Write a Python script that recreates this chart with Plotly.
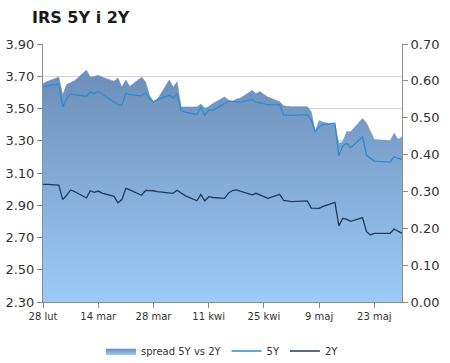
import plotly.graph_objects as go

dates = [
    "2013-02-28", "2013-03-01",
    "2013-03-04", "2013-03-05", "2013-03-06", "2013-03-07", "2013-03-08",
    "2013-03-11", "2013-03-12", "2013-03-13", "2013-03-14", "2013-03-15",
    "2013-03-18", "2013-03-19", "2013-03-20", "2013-03-21", "2013-03-22",
    "2013-03-25", "2013-03-26", "2013-03-27", "2013-03-28", "2013-03-29",
    "2013-04-01", "2013-04-02", "2013-04-03", "2013-04-04", "2013-04-05",
    "2013-04-08", "2013-04-09", "2013-04-10", "2013-04-11", "2013-04-12",
    "2013-04-15", "2013-04-16", "2013-04-17", "2013-04-18", "2013-04-19",
    "2013-04-22", "2013-04-23", "2013-04-24", "2013-04-25", "2013-04-26",
    "2013-04-29", "2013-04-30", "2013-05-02",
    "2013-05-06", "2013-05-07", "2013-05-08", "2013-05-09", "2013-05-10",
    "2013-05-13", "2013-05-14", "2013-05-15", "2013-05-16", "2013-05-17",
    "2013-05-20", "2013-05-21", "2013-05-22", "2013-05-23", "2013-05-24",
    "2013-05-27", "2013-05-28", "2013-05-29", "2013-05-30",
]

irs_5y = [
    3.633, 3.640,
    3.652, 3.510, 3.560, 3.592, 3.585,
    3.576, 3.602, 3.592, 3.606, 3.588,
    3.540, 3.524, 3.520, 3.596, 3.586,
    3.578, 3.598, 3.560, 3.540, 3.555,
    3.582, 3.565, 3.592, 3.489, 3.478,
    3.462, 3.509, 3.458, 3.489, 3.489,
    3.530, 3.544, 3.544, 3.544, 3.540,
    3.557, 3.540, 3.535, 3.530, 3.524,
    3.522, 3.460, 3.457,
    3.462, 3.430, 3.356, 3.387, 3.400,
    3.408, 3.206, 3.270, 3.284, 3.257,
    3.325, 3.210, 3.191, 3.174, 3.172,
    3.168, 3.201, 3.190, 3.185,
]

irs_2y = [
    3.030, 3.030,
    3.025, 2.935, 2.962, 2.995, 2.985,
    2.945, 2.990, 2.980, 2.988, 2.975,
    2.955, 2.915, 2.935, 3.005, 2.995,
    2.962, 2.992, 2.992, 2.990, 2.985,
    2.978, 2.974, 2.993, 2.975, 2.960,
    2.928, 2.967, 2.927, 2.953, 2.948,
    2.943, 2.974, 2.991, 2.995, 2.988,
    2.965, 2.974, 2.962, 2.952, 2.943,
    2.968, 2.930, 2.923,
    2.927, 2.882, 2.881, 2.881, 2.893,
    2.918, 2.772, 2.819, 2.812, 2.800,
    2.823, 2.736, 2.716, 2.726, 2.726,
    2.726, 2.753, 2.738, 2.726,
]

spread = [
    0.592, 0.598,
    0.610, 0.561, 0.590, 0.595, 0.600,
    0.629, 0.610, 0.612, 0.615, 0.610,
    0.599, 0.608, 0.583, 0.602, 0.585,
    0.610, 0.597, 0.560, 0.544, 0.550,
    0.602, 0.583, 0.597, 0.529, 0.529,
    0.529, 0.537, 0.526, 0.530, 0.538,
    0.556, 0.548, 0.544, 0.550, 0.553,
    0.574, 0.565, 0.571, 0.563, 0.556,
    0.543, 0.532, 0.530,
    0.530, 0.516, 0.462, 0.492, 0.488,
    0.480, 0.430, 0.435, 0.462, 0.462,
    0.498, 0.485, 0.460, 0.440, 0.440,
    0.437, 0.458, 0.441, 0.448,
]

tick_dates = ["2013-02-28", "2013-03-14", "2013-03-28", "2013-04-11",
              "2013-04-25", "2013-05-09", "2013-05-23"]
tick_labels = ["28 lut", "14 mar", "28 mar", "11 kwi", "25 kwi", "9 maj", "23 maj"]

FONT = "Verdana, DejaVu Sans, sans-serif"
AXIS_COL = "#8c8c8c"

fig = go.Figure()

fig.add_trace(go.Scatter(
    x=dates, y=spread, name="spread 5Y vs 2Y", yaxis="y",
    mode="lines", fill="tozeroy",
    line=dict(color="#6f91bb", width=0.6),
    fillgradient=dict(type="vertical", start=0, stop=0.62,
                      colorscale=[[0, "#9ccbf8"], [1, "#6d8fb9"]]),
    fillcolor="#7a9cc6",
))
fig.add_trace(go.Scatter(
    x=dates, y=irs_5y, name="5Y", yaxis="y2", mode="lines",
    line=dict(color="#2e8cce", width=1.3),
))
fig.add_trace(go.Scatter(
    x=dates, y=irs_2y, name="2Y", yaxis="y2", mode="lines",
    line=dict(color="#1f3a5c", width=1.3),
))

fig.update_layout(
    width=450, height=363,
    margin=dict(l=43, r=48, t=44, b=61, autoexpand=False),
    paper_bgcolor="white", plot_bgcolor="white",
    font=dict(family=FONT, color="#333333", size=12),
    title=dict(text="<b>IRS 5Y i 2Y</b>", xref="container", yref="container",
               x=32 / 450, xanchor="left", y=1 - 17 / 363, yanchor="middle",
               font=dict(family=FONT, size=16, color="#1a1a1a")),
    showlegend=True,
    legend=dict(orientation="h", x=0.5, xanchor="center", y=-0.19, yanchor="middle",
                font=dict(size=10, family=FONT, color="#333333"),
                itemwidth=30, tracegroupgap=0, traceorder="normal"),
    xaxis=dict(type="date", range=[dates[0], dates[-1]], automargin=False,
               tickvals=tick_dates, ticktext=tick_labels,
               showgrid=False, zeroline=False,
               showline=True, linecolor=AXIS_COL, linewidth=1,
               ticks="outside", ticklen=5, tickcolor=AXIS_COL,
               tickfont=dict(size=10, family=FONT, color="#333333")),
    yaxis=dict(side="right", range=[0, 0.7], dtick=0.1, tick0=0, tickformat=".2f",
               automargin=False, showgrid=False, zeroline=False,
               showline=True, linecolor=AXIS_COL, linewidth=1,
               ticks="outside", ticklen=5, tickcolor=AXIS_COL,
               tickfont=dict(size=13, family=FONT, color="#333333")),
    yaxis2=dict(side="left", overlaying="y", range=[2.3, 3.9], dtick=0.2, tick0=2.3,
                tickformat=".2f", automargin=False,
                showgrid=True, gridcolor="#d4d4d4", gridwidth=1,
                zeroline=False,
                showline=True, linecolor=AXIS_COL, linewidth=1,
                ticks="outside", ticklen=5, tickcolor=AXIS_COL,
                tickfont=dict(size=13, family=FONT, color="#333333")),
)

fig.write_html(
    "out.html",
    config={"displayModeBar": False},
    post_script="document.body.style.margin='0';document.body.style.padding='0';",
)
